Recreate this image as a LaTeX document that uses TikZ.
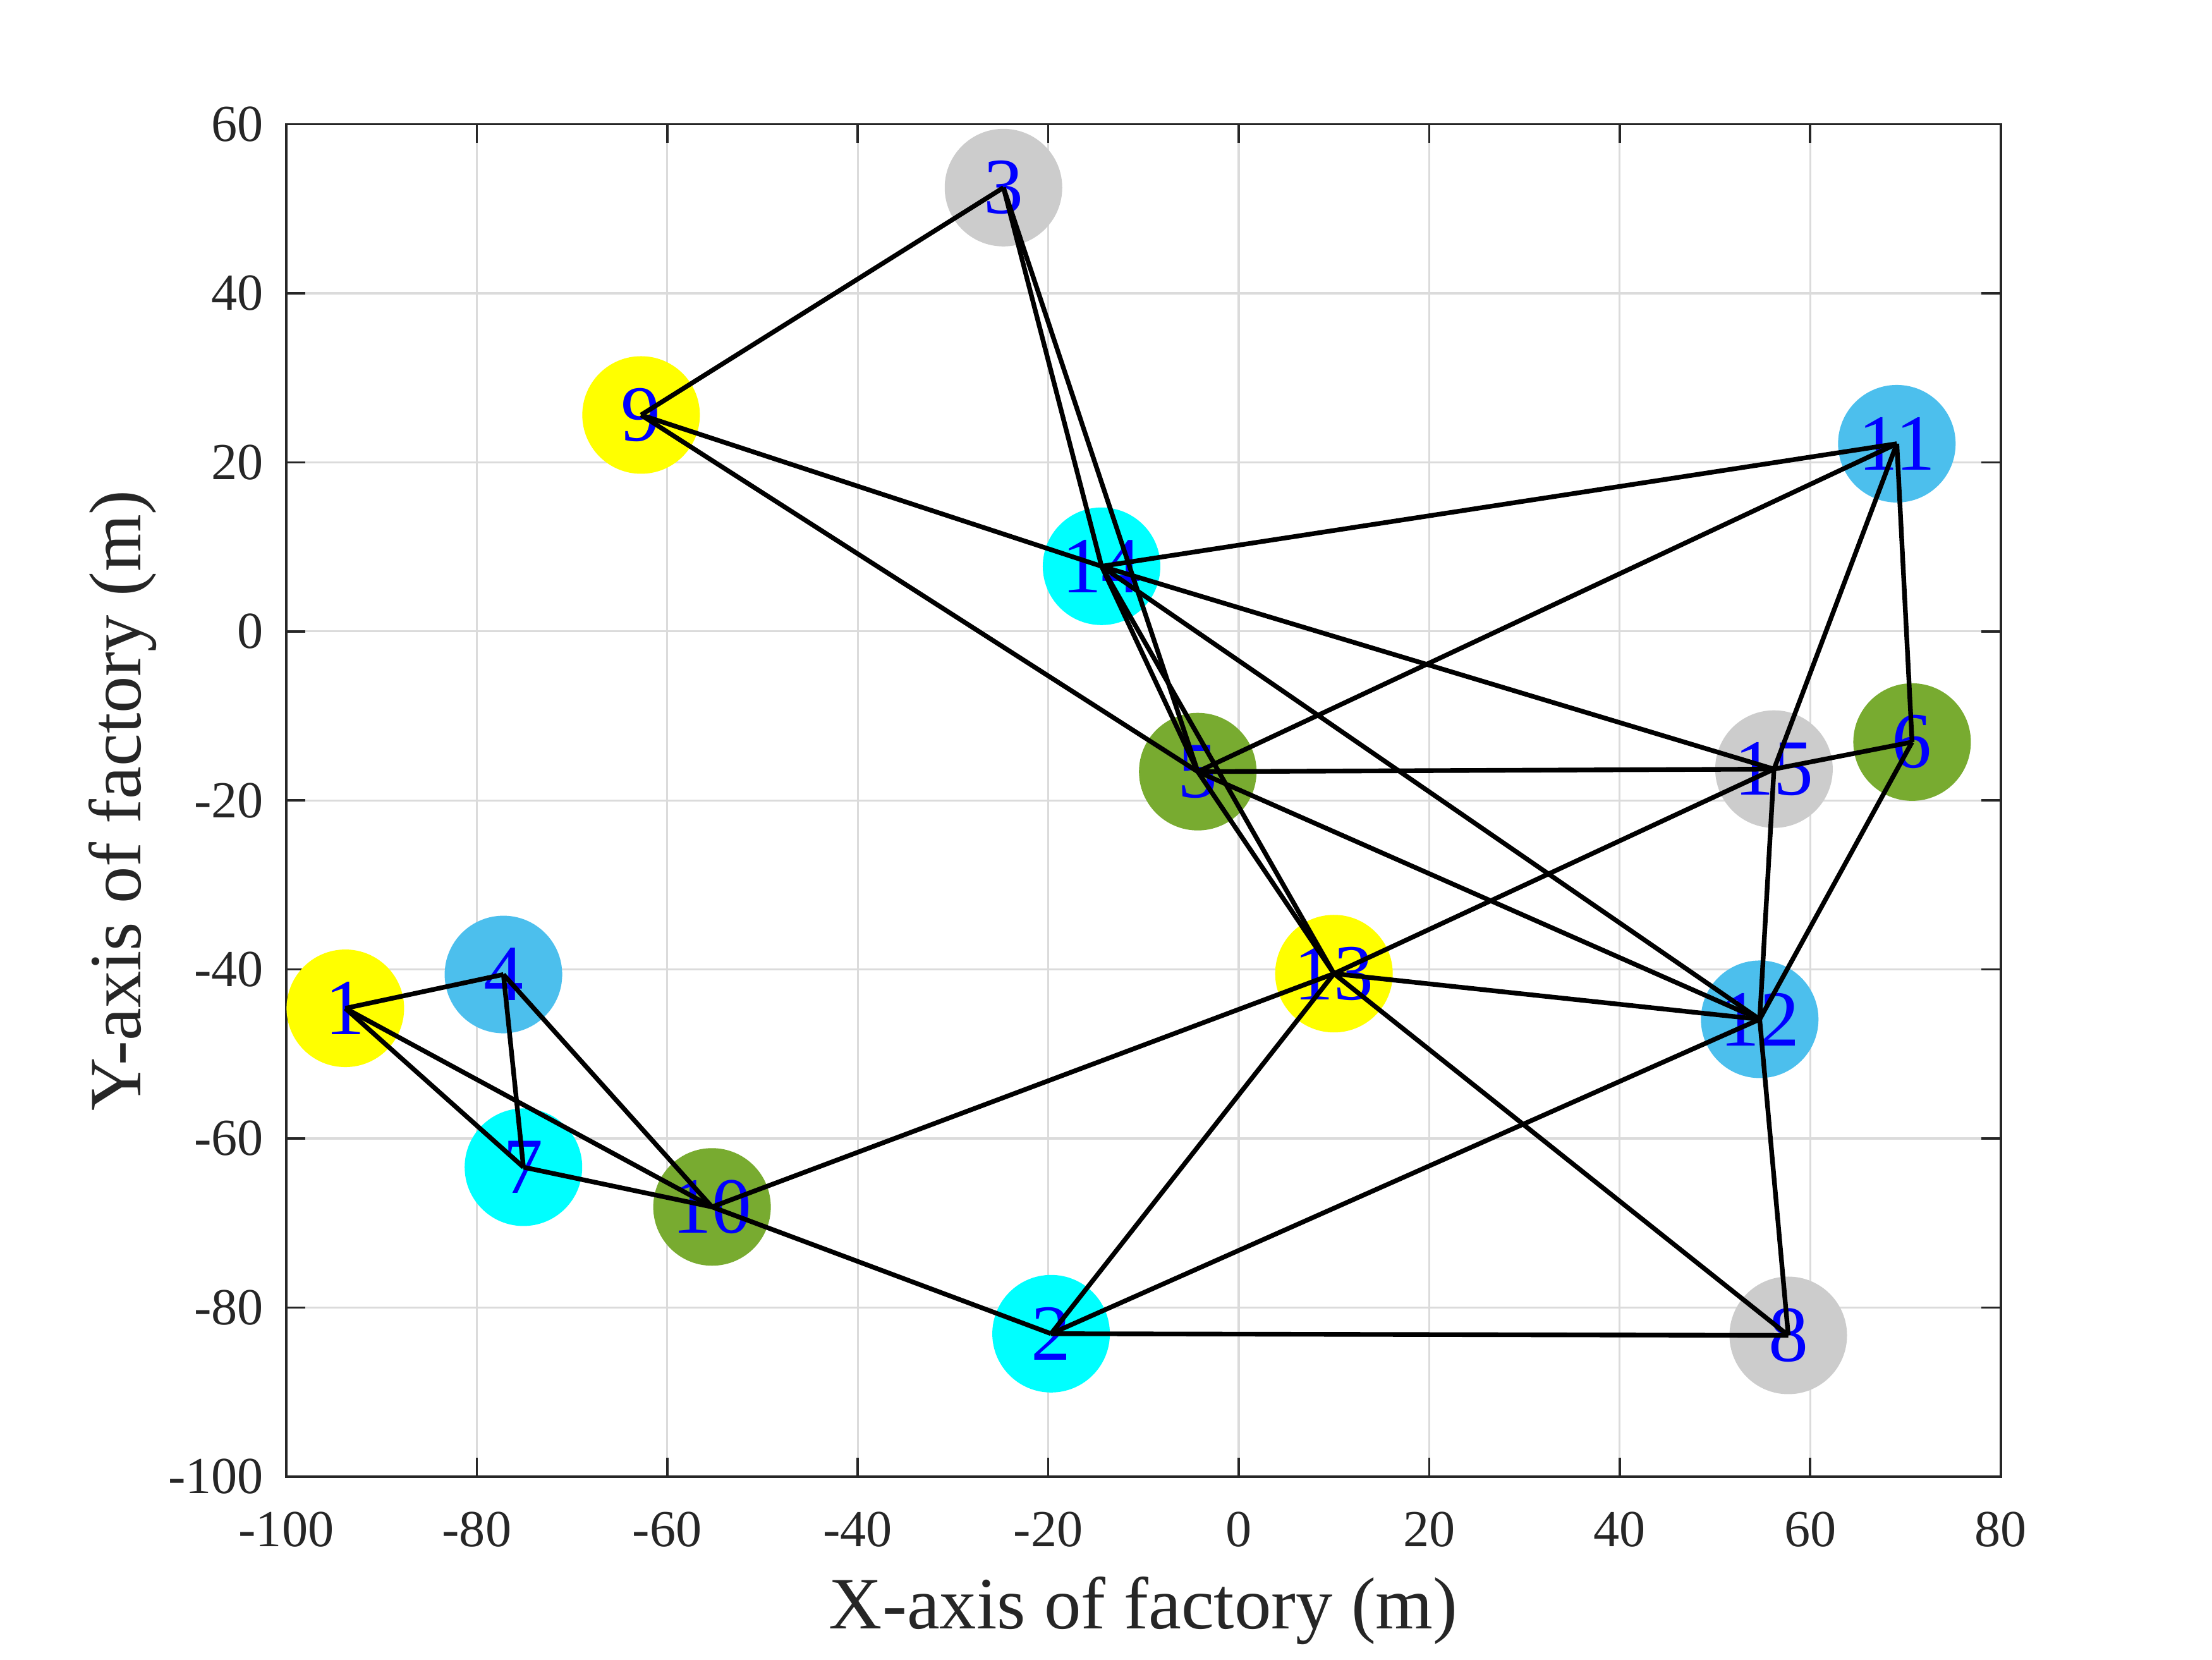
\documentclass[tikz,border=0pt]{standalone}
\usepackage{fontspec}
\setmainfont{Liberation Serif}
\usepackage{tikz}
\usetikzlibrary{positioning}
\definecolor{axisgray}{rgb}{0.15,0.15,0.15}
\definecolor{gridgray}{rgb}{0.86,0.86,0.86}
\definecolor{siteyellow}{rgb}{1,1,0}
\definecolor{sitecyan}{rgb}{0,1,1}
\definecolor{sitegray}{rgb}{0.8,0.8,0.8}
\definecolor{siteblue}{rgb}{0.30,0.75,0.93}
\definecolor{sitegreen}{rgb}{0.47,0.67,0.19}

\begin{document}
\begin{tikzpicture}[x=0.07535cm, y=0.06685cm,
    site/.style={circle, fill=#1, minimum size=0.93cm, inner sep=0pt, text=blue, font=\fontsize{17.9}{18}\selectfont},
    route/.style={black, line width=1.05pt},
    ticklab/.style={inner sep=0pt, text=axisgray, font=\fontsize{11.7}{12}\selectfont},
    axislab/.style={inner sep=0pt, text=axisgray, font=\fontsize{16.6}{17}\selectfont}]
    \useasboundingbox (-130.06,-121.64) rectangle (102.19,74.70);

    % Grid
    \foreach \gx in {-80,-60,...,60}
        \draw[gridgray, line width=0.45pt] (\gx,-100) -- (\gx,60);
    \foreach \gy in {-80,-60,...,40}
        \draw[gridgray, line width=0.45pt] (-100,\gy) -- (80,\gy);

    % Ticks and tick labels
    \foreach \gx in {-100,-80,...,80} {
        \draw[axisgray, line width=0.5pt] (\gx,-100) -- (\gx,-97.76);
        \draw[axisgray, line width=0.5pt] (\gx,60) -- (\gx,57.76);
        \node[ticklab, anchor=north] (xt\gx) at (\gx,-104.1) {\gx};
    }
    \foreach \gy in {-100,-80,...,60} {
        \draw[axisgray, line width=0.5pt] (-100,\gy) -- (-98,\gy);
        \draw[axisgray, line width=0.5pt] (80,\gy) -- (78,\gy);
        \node[ticklab, anchor=east] (yt\gy) at (-102.3,\gy) {\gy};
    }

    % Axes box
    \draw[axisgray, line width=0.55pt] (-100,-100) rectangle (80,60);

    % Axis labels
    \node[axislab, anchor=base] (xlabel) at (-10,-118) {X-axis of factory (m)};
    \node[axislab, anchor=base, rotate=90] (ylabel) at (-115.3,-20) {Y-axis of factory (m)};

    % Sites
    \foreach \n/\px/\py/\c in {1/-93.8/-44.6/siteyellow, 2/-19.7/-83.1/sitecyan,
        3/-24.7/52.5/sitegray, 4/-77.2/-40.6/siteblue, 5/-4.3/-16.6/sitegreen,
        6/70.7/-13.1/sitegreen, 7/-75.1/-63.4/sitecyan, 8/57.7/-83.3/sitegray,
        9/-62.75/25.6/siteyellow, 10/-55.3/-68.1/sitegreen, 11/69.1/22.2/siteblue,
        12/54.7/-45.9/siteblue, 13/10.0/-40.5/siteyellow, 14/-14.4/7.7/sitecyan,
        15/56.2/-16.3/sitegray}
        \node[site=\c] (n\n) at (\px,\py) {\n};

    % Routes
    \foreach \a/\b in {1/4, 1/7, 1/10, 4/7, 4/10, 7/10, 10/2, 10/13, 2/13, 2/12, 2/8,
        3/9, 3/14, 3/5, 9/14, 9/5, 14/11, 14/15, 14/12, 14/5, 14/13, 5/15, 5/11,
        5/12, 5/13, 11/15, 11/6, 6/15, 6/12, 15/12, 15/13, 12/13, 12/8, 13/8}
        \draw[route] (n\a.center) -- (n\b.center);
\end{tikzpicture}
\end{document}
